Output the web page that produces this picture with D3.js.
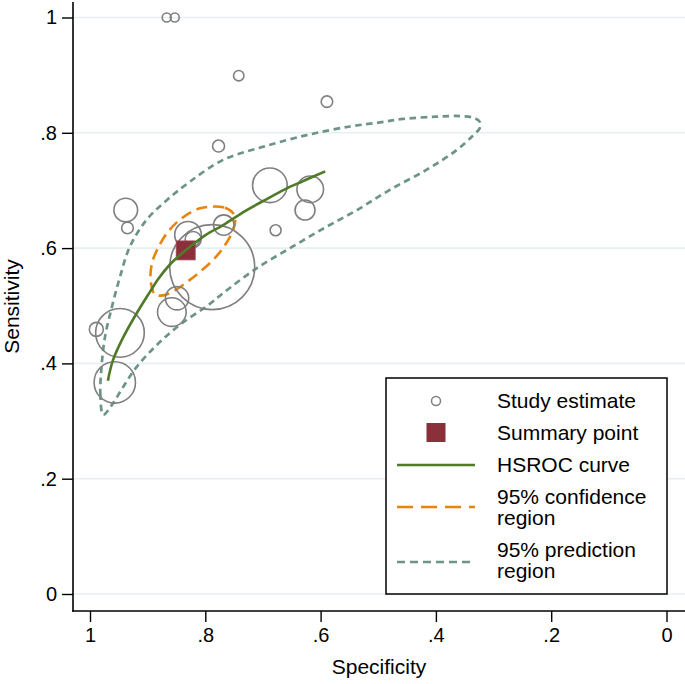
<!DOCTYPE html>
<html>
<head>
<meta charset="utf-8">
<script src="https://cdn.jsdelivr.net/npm/d3@7"></script>
<style>
  body { margin: 0; background: #fff; }
  svg { display: block; font-family: "Liberation Sans", Arial, sans-serif; }
</style>
</head>
<body>
<svg id="chart" width="685" height="684"></svg>
<script>
// ---------- data ----------
const studySpec   = [0.867, 0.853, 0.742, 0.589, 0.777, 0.938, 0.935, 0.688, 0.618, 0.627, 0.678, 0.768, 0.830, 0.821, 0.788, 0.849, 0.858, 0.948, 0.989, 0.957];
const studySens   = [1.000, 1.000, 0.899, 0.854, 0.777, 0.666, 0.635, 0.709, 0.702, 0.666, 0.631, 0.640, 0.623, 0.615, 0.567, 0.513, 0.489, 0.453, 0.459, 0.367];
const studyWeight = [20, 20, 27, 33, 36, 140, 34, 300, 177, 100, 30, 104, 177, 64, 1806, 136, 205, 592, 49, 428];

const summarySpec = 0.834;
const summarySens = 0.596;

const hsrocSpec = [0.969, 0.960, 0.942, 0.919, 0.896, 0.882, 0.861, 0.844, 0.827, 0.799, 0.769, 0.728, 0.697, 0.662, 0.631, 0.592];
const hsrocSens = [0.370, 0.406, 0.446, 0.487, 0.524, 0.546, 0.572, 0.588, 0.602, 0.623, 0.640, 0.666, 0.683, 0.702, 0.716, 0.733];

const confSpec = [0.787, 0.766, 0.752, 0.748, 0.753, 0.766, 0.785, 0.809, 0.832, 0.854, 0.873, 0.887, 0.893, 0.895, 0.891, 0.882, 0.868, 0.849, 0.827, 0.809];
const confSens = [0.672, 0.670, 0.661, 0.647, 0.628, 0.605, 0.581, 0.559, 0.541, 0.526, 0.518, 0.519, 0.533, 0.555, 0.579, 0.600, 0.624, 0.645, 0.661, 0.669];

const predSpec = [0.977, 0.982, 0.980, 0.974, 0.962, 0.948, 0.931, 0.902, 0.867, 0.827, 0.769, 0.699, 0.624, 0.549, 0.497, 0.457, 0.399, 0.358, 0.335, 0.324, 0.324,
                  0.335, 0.364, 0.416, 0.480, 0.537, 0.595, 0.653, 0.711, 0.769, 0.795, 0.844, 0.884, 0.919, 0.942, 0.962];
const predSens = [0.311, 0.345, 0.394, 0.446, 0.498, 0.550, 0.602, 0.649, 0.683, 0.715, 0.753, 0.776, 0.796, 0.811, 0.818, 0.824, 0.828, 0.829, 0.826, 0.819, 0.808,
                  0.796, 0.770, 0.736, 0.701, 0.666, 0.634, 0.600, 0.565, 0.522, 0.501, 0.467, 0.432, 0.394, 0.360, 0.328];

const xTicks = [1, 0.8, 0.6, 0.4, 0.2, 0];
const yTicks = [0, 0.2, 0.4, 0.6, 0.8, 1];
const tickFmt = v => v === 0 ? "0" : v === 1 ? "1" : String(v).replace(/^0/, "");

const legendLabels = [["Study estimate"], ["Summary point"], ["HSROC curve"], ["95% confidence", "region"], ["95% prediction", "region"]];

// ---------- layout ----------
const svg = d3.select("#chart");
const plotLeft = 73, plotRight = 685, plotTop = 2, plotBottom = 611;
const x = d3.scaleLinear().domain([1, 0]).range([90, 666.5]);
const y = d3.scaleLinear().domain([0, 1]).range([594, 17.5]);
const r = d3.scaleSqrt().domain([0, 1806]).range([0, 42.5]);

const C = {
  grid: "#e6eff2", circle: "#7f7f7f", summary: "#8b2f3a",
  hsroc: "#4f7a28", conf: "#e8850f", pred: "#6d9487"
};

// gridlines
svg.append("g").selectAll("line").data(yTicks).join("line")
  .attr("x1", plotLeft).attr("x2", plotRight)
  .attr("y1", d => y(d)).attr("y2", d => y(d))
  .attr("stroke", C.grid).attr("stroke-width", 1.6);

// axes
const yAxis = d3.axisLeft(y).tickValues(yTicks).tickFormat(tickFmt).tickSize(11).tickPadding(5);
const gy = svg.append("g").attr("transform", `translate(${plotLeft},0)`).call(yAxis);
gy.select(".domain").remove();
gy.append("line").attr("x1", 0).attr("x2", 0).attr("y1", plotTop).attr("y2", plotBottom + 0.8)
  .attr("stroke", "#000").attr("stroke-width", 1.6);

const xAxis = d3.axisBottom(x).tickValues(xTicks).tickFormat(tickFmt).tickSize(11).tickPadding(6);
const gx = svg.append("g").attr("transform", `translate(0,${plotBottom})`).call(xAxis);
gx.select(".domain").remove();
gx.append("line").attr("x1", plotLeft - 0.8).attr("x2", plotRight).attr("y1", 0).attr("y2", 0)
  .attr("stroke", "#000").attr("stroke-width", 1.6);

[gx, gy].forEach(g => {
  g.selectAll(".tick line").attr("stroke", "#000").attr("stroke-width", 1.4);
  g.selectAll(".tick text").attr("fill", "#000").style("font-size", "20px")
    .style("font-family", "'Liberation Sans', Arial, sans-serif");
});

// axis titles
svg.append("text").attr("x", (plotLeft + plotRight) / 2).attr("y", 674)
  .attr("text-anchor", "middle").style("font-size", "21px").text("Specificity");
svg.append("text").attr("transform", `translate(19,${(plotTop + plotBottom) / 2}) rotate(-90)`)
  .attr("text-anchor", "middle").style("font-size", "21px").text("Sensitivity");

// prediction region
const predPts = predSpec.map((s, i) => [x(s), y(predSens[i])]);
svg.append("path").attr("d", d3.line().curve(d3.curveCatmullRomClosed.alpha(0.5))(predPts))
  .attr("fill", "none").attr("stroke", C.pred).attr("stroke-width", 2.7)
  .attr("stroke-dasharray", "6.5,4.5");

// confidence region
const confPts = confSpec.map((s, i) => [x(s), y(confSens[i])]);
svg.append("path").attr("d", d3.line().curve(d3.curveCatmullRomClosed.alpha(0.5))(confPts))
  .attr("fill", "none").attr("stroke", C.conf).attr("stroke-width", 2.6)
  .attr("stroke-dasharray", "11,6");

// study circles
const studies = studySpec.map((s, i) => ({ spec: s, sens: studySens[i], w: studyWeight[i] }));
svg.append("g").selectAll("circle").data(studies).join("circle")
  .attr("cx", d => x(d.spec)).attr("cy", d => y(d.sens)).attr("r", d => r(d.w))
  .attr("fill", "none").attr("stroke", C.circle).attr("stroke-width", 1.6);

// summary point
const sq = 19;
svg.append("rect").attr("x", x(summarySpec) - sq / 2).attr("y", y(summarySens) - sq / 2)
  .attr("width", sq).attr("height", sq)
  .attr("fill", C.summary).attr("stroke", "#9c4a55").attr("stroke-width", 0.8);

// HSROC curve
const hsPts = hsrocSpec.map((s, i) => [x(s), y(hsrocSens[i])]);
svg.append("path").attr("d", d3.line().curve(d3.curveCatmullRom.alpha(0.5))(hsPts))
  .attr("fill", "none").attr("stroke", C.hsroc).attr("stroke-width", 2.6);

// legend
const lg = svg.append("g");
lg.append("rect").attr("x", 386).attr("y", 378).attr("width", 281).attr("height", 216)
  .attr("fill", "#fff").attr("stroke", "#000").attr("stroke-width", 1.5);
const symX = 436, lx1 = 397, lx2 = 475, textX = 497;
lg.append("circle").attr("cx", symX).attr("cy", 401).attr("r", 4.5)
  .attr("fill", "none").attr("stroke", C.circle).attr("stroke-width", 1.5);
lg.append("rect").attr("x", symX - 9.5).attr("y", 423).attr("width", 19).attr("height", 19)
  .attr("fill", C.summary);
lg.append("line").attr("x1", lx1).attr("x2", lx2).attr("y1", 465).attr("y2", 465)
  .attr("stroke", C.hsroc).attr("stroke-width", 2.6);
lg.append("line").attr("x1", lx1).attr("x2", lx2).attr("y1", 507).attr("y2", 507)
  .attr("stroke", C.conf).attr("stroke-width", 2.6).attr("stroke-dasharray", "16,8");
lg.append("line").attr("x1", lx1).attr("x2", lx2).attr("y1", 562).attr("y2", 562)
  .attr("stroke", C.pred).attr("stroke-width", 2.7).attr("stroke-dasharray", "8,5");

const baselines = [[408], [440], [472], [504, 525], [557, 578]];
legendLabels.forEach((lines, i) => {
  lines.forEach((t, j) => {
    lg.append("text").attr("x", textX).attr("y", baselines[i][j])
      .style("font-size", "21px").attr("fill", "#000").text(t);
  });
});
</script>
</body>
</html>
